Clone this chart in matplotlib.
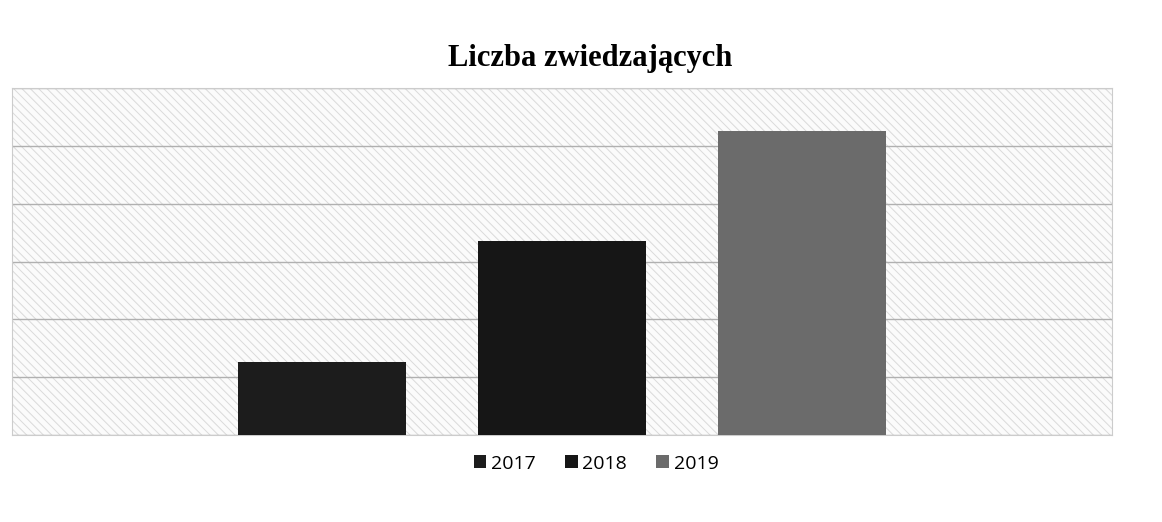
import matplotlib.pyplot as plt
import matplotlib as mpl

# Data (no axis labels in the original, so relative units)
years = ['2017', '2018', '2019']
visitors = [1.27, 3.35, 5.25]
colors = ['#1c1c1c', '#161616', '#6b6b6b']

mpl.rcParams['hatch.color'] = '#dadada'
mpl.rcParams['hatch.linewidth'] = 0.7

fig = plt.figure(figsize=(11.62, 5.22), dpi=100)
ax = fig.add_axes([12 / 1162, 87 / 522, 1100 / 1162, 347 / 522])

# hatched plot background like the scanned original
ax.patch.set_facecolor('#fbfbfb')
ax.patch.set_hatch('\\\\\\\\')
ax.patch.set_edgecolor('#dadada')

x = range(len(years))
bars = ax.bar(x, visitors, width=0.7, color=colors, label=years, zorder=3)

ax.set_xlim(-1.29, 3.29)
ax.set_ylim(0, 6)
ax.set_yticks(range(0, 7))
ax.grid(axis='y', color='#b0b0b0', linewidth=1.0, zorder=1)
ax.tick_params(left=False, bottom=False, labelleft=False, labelbottom=False)
for side in ax.spines.values():
    side.set_color('#cccccc')
    side.set_linewidth(0.8)

fig.text(0.508, 0.888, 'Liczba zwiedzających', ha='center', va='center',
         family='Liberation Serif', fontweight='bold', fontsize=22)

fig.legend(bars, years, loc='center', bbox_to_anchor=(0.513, 0.112), ncol=3,
           frameon=False, handlelength=0.65, handleheight=0.65,
           handletextpad=0.25, columnspacing=1.5, prop={'family': 'Open Sans', 'size': 14})

plt.savefig('out.png', dpi=100)
